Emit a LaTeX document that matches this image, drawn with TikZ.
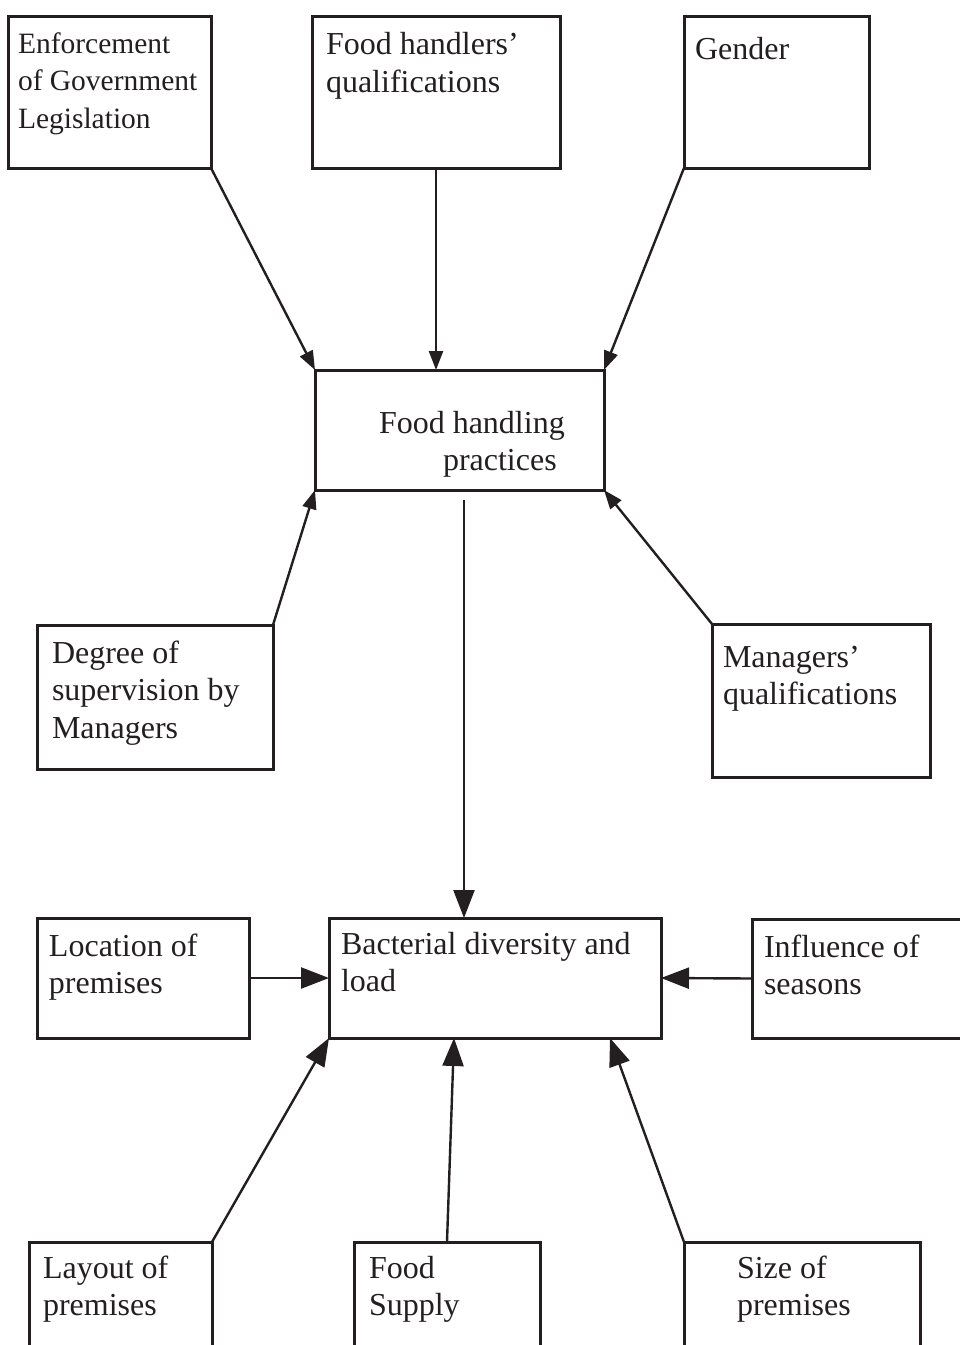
\documentclass[tikz,border=0pt]{standalone}
\usepackage{fontspec}
\setmainfont{Liberation Serif}
\usepackage{xcolor}
\usetikzlibrary{arrows.meta}
\definecolor{ink}{RGB}{35,31,32}
\newcommand{\boxtext}[5]{\parbox[t][#2pt][t]{#1pt}{\raggedright\leftskip=#3pt\relax
  \vspace*{#4pt}\rule{0pt}{26pt}#5}}

\begin{document}
\begin{tikzpicture}[x=1pt, y=-1pt,
  box/.style={draw=ink, line width=3pt, inner sep=0pt, outer sep=0pt,
              anchor=north west, text=ink, font=\fontsize{32}{37.5}\selectfont},
  arr/.style={draw=ink, line width=2.4pt, -{Triangle[length=19pt, width=14pt]}},
  bigarr/.style={arr, -{Triangle[length=28pt, width=21pt]}}]
\useasboundingbox (0,0) rectangle (960,1345);
\node[box, font=\fontsize{29.5}{37.7}\selectfont] (enf) at (8,16)
  {\boxtext{203}{152}{10}{11}{Enforcement\\of Government\\Legislation}};
\node[box] (fhq) at (312,16)
  {\boxtext{248}{152}{14}{12.5}{Food handlers’\\qualifications}};
\node[box] (gender) at (684,16)
  {\boxtext{185}{152}{11}{17}{Gender}};
\node[box] (fhp) at (315,370)
  {\boxtext{289}{120}{64}{37}{Food handling\\\hspace*{64pt}practices}};
\node[box] (degree) at (37,625)
  {\boxtext{236}{144}{15}{12}{Degree of\\supervision by\\Managers}};
\node[box] (managers) at (712,624)
  {\boxtext{218}{153}{11}{17}{Managers’\\qualifications}};
\node[box] (location) at (37,918)
  {\boxtext{212}{120}{12}{12}{Location of\\premises}};
\node[box] (bact) at (329,918)
  {\boxtext{332}{120}{12}{10}{Bacterial diversity and\\load}};
\node[box] (seasons) at (752,919)
  {\boxtext{240}{119}{12}{12}{Influence of\\seasons}};
\node[box] (layout) at (29,1242)
  {\boxtext{183}{150}{14}{10}{Layout of\\premises}};
\node[box] (supply) at (354,1242)
  {\boxtext{186}{150}{15}{10}{Food\\Supply}};
\node[box] (size) at (684,1242)
  {\boxtext{236}{150}{53}{10}{Size of\\premises}};
\draw[arr] (enf.south east) -- (fhp.north west);
\draw[arr] (fhq.south) -- (fhq.south |- fhp.north);
\draw[arr] (gender.south west) -- (fhp.north east);
\draw[arr] (degree.north east) -- (fhp.south west);
\draw[arr] (managers.north west) -- (fhp.south east);
\draw[bigarr] ([xshift=4.5pt, yshift=-10pt]fhp.south) -- ([xshift=-31pt]bact.north);
\draw[bigarr] (location.east) -- (bact.west);
\draw[bigarr] (seasons.west) -- (bact.east);
\draw[bigarr] (layout.north east) -- (bact.south west);
\draw[bigarr] (supply.north) -- ([xshift=-41pt]bact.south);
\draw[bigarr] (size.north west) -- ([xshift=-51pt]bact.south east);
\end{tikzpicture}
\end{document}
